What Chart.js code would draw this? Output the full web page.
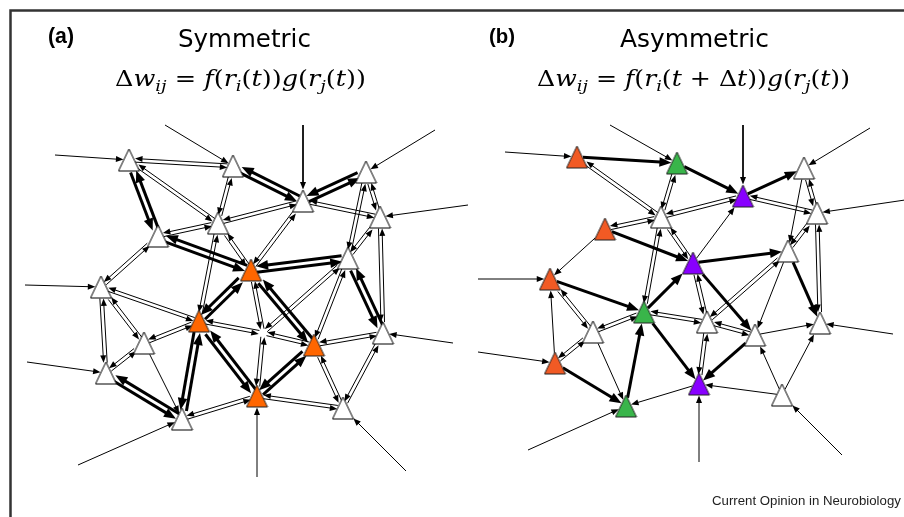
<!DOCTYPE html>
<html>
<head>
<meta charset="utf-8">
<script src="https://cdn.jsdelivr.net/npm/chart.js@4.4.0/dist/chart.umd.min.js"></script>
<style>
html, body { margin: 0; padding: 0; background: #fff; }
#wrap { position: relative; width: 904px; height: 517px; }
</style>
</head>
<body>
<div id="wrap"><canvas id="net"></canvas></div>
<script>
// ---- panel (a) : symmetric ----
var aX = [129, 233, 303, 366, 380, 218, 158, 251, 348, 101, 199, 144, 314, 383, 106, 182, 257, 343, 263];
var aY = [160, 166, 201, 172, 217, 223, 236, 270, 258, 287, 321, 343, 345, 333, 373, 419, 396, 408, 333];
var aKind = ['w', 'w', 'w', 'w', 'w', 'w', 'w', 'o', 'w', 'w', 'o', 'w', 'o', 'w', 'w', 'w', 'o', 'w', 'h'];
// connections in both directions: [i, j, thick]
var aPairs = [
    [0, 1, 0], [0, 6, 1], [0, 5, 0], [1, 5, 0], [1, 2, 1], [2, 3, 1], [2, 5, 0], [2, 4, 0], [2, 7, 0],
    [3, 4, 0], [3, 8, 0], [4, 8, 0], [4, 13, 0], [5, 7, 0], [6, 5, 0], [6, 7, 1], [6, 9, 0], [7, 8, 1],
    [5, 10, 0], [7, 10, 1], [7, 12, 1], [7, 18, 0], [8, 18, 0], [8, 12, 0], [8, 13, 1], [9, 10, 0],
    [9, 14, 0], [9, 11, 0], [10, 11, 0], [10, 15, 1], [10, 16, 1], [10, 18, 0], [11, 14, 0], [14, 15, 1],
    [15, 16, 0], [16, 12, 1], [16, 18, 0], [16, 17, 0], [12, 18, 0], [12, 13, 0], [12, 17, 0], [13, 17, 0]
];
// one way connections: [from, to, thick]
var aSingles = [[11, 15, 0]];
// inputs from outside: [x, y, to]
var aInputs = [[55, 155, 0], [165, 125, 1], [303, 125, 2], [435, 130, 3], [468, 205, 4], [25, 285, 9],
    [27, 362, 14], [78, 465, 15], [257, 477, 16], [406, 471, 17], [453, 343, 13]];

// ---- panel (b) : asymmetric ----
var bX = [577, 677, 743, 804, 817, 661, 605, 693, 788, 550, 644, 593, 707, 755, 820, 555, 699, 782, 626];
var bY = [157, 163, 196, 168, 213, 217, 229, 263, 251, 279, 312, 332, 322, 335, 323, 363, 384, 395, 406];
var bKind = ['o', 'g', 'p', 'w', 'w', 'w', 'o', 'p', 'w', 'o', 'g', 'w', 'w', 'w', 'w', 'o', 'p', 'w', 'g'];
var bPairs = [
    [0, 5, 0], [1, 5, 0], [2, 5, 0], [2, 4, 0], [3, 4, 0], [4, 8, 0], [4, 14, 0], [5, 6, 0], [5, 7, 0],
    [5, 10, 0], [7, 12, 0], [8, 12, 0], [9, 11, 0], [10, 12, 0], [11, 15, 0], [12, 16, 0], [12, 13, 0], [11, 10, 0]
];
var bSingles = [
    [0, 1, 1], [1, 2, 1], [2, 3, 1], [6, 7, 1], [7, 8, 1], [7, 13, 1], [8, 14, 1], [9, 10, 1], [10, 7, 1],
    [10, 16, 1], [15, 18, 1], [18, 10, 1], [13, 16, 1],
    [3, 8, 0], [8, 13, 0], [7, 2, 0], [15, 9, 0], [6, 9, 0], [11, 18, 0], [16, 18, 0], [17, 16, 0],
    [17, 13, 0], [17, 14, 0], [13, 14, 0]
];
var bInputs = [[505, 152, 0], [610, 125, 1], [743, 125, 2], [870, 128, 3], [905, 200, 4], [478, 279, 9],
    [478, 352, 15], [528, 450, 18], [699, 462, 16], [842, 455, 17], [893, 334, 14]];

var fills = { w: '#ffffff', oa: '#ff6600', o: '#f15a24', g: '#39b54a', p: '#8800ff' };

// triangle glyph used as point style
var TRI = [[0, -11], [10.5, 11], [-10.5, 11]];
function makeTri(color) {
    var c = document.createElement('canvas');
    c.width = 23; c.height = 24;
    var g = c.getContext('2d');
    g.beginPath();
    g.moveTo(11.5, 1);
    g.lineTo(22, 23);
    g.lineTo(1, 23);
    g.closePath();
    g.fillStyle = color;
    g.fill();
    g.lineWidth = 1;
    g.strokeStyle = color == '#ffffff' ? '#000' : '#222';
    g.stroke();
    return c;
}
var triCache = {};
function triFor(color) {
    if (!triCache[color]) triCache[color] = makeTri(color);
    return triCache[color];
}

// distance from triangle centre to its border along unit direction
function borderDist(dx, dy) {
    var best = 11;
    for (var k = 0; k < 3; k++) {
        var p = TRI[k], q = TRI[(k + 1) % 3];
        var ex = q[0] - p[0], ey = q[1] - p[1];
        var den = dx * ey - dy * ex;
        if (Math.abs(den) < 1e-9) continue;
        var t = (p[0] * ey - p[1] * ex) / den;
        var s = (p[0] * dy - p[1] * dx) / den;
        if (t > 0 && s >= -0.01 && s <= 1.01) best = t;
    }
    return best;
}

var datasets = [];

function addArrow(x1, y1, x2, y2, thick, fromNode, toHidden, fromHidden, off) {
    var dx = x2 - x1, dy = y2 - y1;
    var L = Math.hypot(dx, dy);
    dx /= L; dy /= L;
    var px = -dy * off, py = dx * off;
    var g0 = fromNode ? (fromHidden ? 4 : borderDist(dx, dy) + 0.5) : 0;
    var g1 = toHidden ? 4 : borderDist(-dx, -dy) + 0.5;
    var len = thick ? 12 : 7.5;
    var half = thick ? 4.8 : 3;
    var ext = len * 0.6;
    datasets.push({
        data: [
            { x: x1 + dx * g0 + px, y: y1 + dy * g0 + py },
            { x: x2 - dx * (g1 + ext) + px, y: y2 - dy * (g1 + ext) + py }
        ],
        showLine: true,
        borderColor: '#000',
        borderWidth: thick ? 3 : 1,
        pointRadius: 0,
        pointHoverRadius: 0,
        head: { len: len, half: half, ext: ext },
        order: 2
    });
}

function buildPanel(X, Y, kind, pairs, singles, inputs, orangeKey) {
    pairs.forEach(function (e) {
        var i = e[0], j = e[1], off = e[2] ? 3 : 1.8;
        addArrow(X[i], Y[i], X[j], Y[j], e[2], true, kind[j] == 'h', kind[i] == 'h', off);
        addArrow(X[j], Y[j], X[i], Y[i], e[2], true, kind[i] == 'h', kind[j] == 'h', off);
    });
    singles.forEach(function (e) {
        addArrow(X[e[0]], Y[e[0]], X[e[1]], Y[e[1]], e[2], true, kind[e[1]] == 'h', kind[e[0]] == 'h', 0);
    });
    inputs.forEach(function (e) {
        addArrow(e[0], e[1], X[e[2]], Y[e[2]], 0, false, false, false, 0);
    });
    var pts = [], styles = [];
    for (var i = 0; i < X.length; i++) {
        if (kind[i] == 'h') continue;
        pts.push({ x: X[i], y: Y[i] });
        var k = kind[i] == 'o' ? orangeKey : kind[i];
        styles.push(triFor(fills[k]));
    }
    datasets.push({
        data: pts,
        pointStyle: styles,
        pointRadius: 11,
        pointHoverRadius: 11,
        showLine: false,
        order: 0
    });
}

buildPanel(aX, aY, aKind, aPairs, aSingles, aInputs, 'oa');
buildPanel(bX, bY, bKind, bPairs, bSingles, bInputs, 'o');

var arrowHeads = {
    id: 'arrowHeads',
    afterDatasetDraw: function (chart, args) {
        var ds = chart.data.datasets[args.index];
        if (!ds.head) return;
        var a = args.meta.data[0], b = args.meta.data[1];
        var dx = b.x - a.x, dy = b.y - a.y, L = Math.hypot(dx, dy);
        dx /= L; dy /= L;
        var tx = b.x + dx * ds.head.ext, ty = b.y + dy * ds.head.ext;
        var bx = tx - dx * ds.head.len, by = ty - dy * ds.head.len;
        var ctx = chart.ctx;
        ctx.save();
        ctx.fillStyle = '#000';
        ctx.beginPath();
        ctx.moveTo(tx, ty);
        ctx.lineTo(bx - dy * ds.head.half, by + dx * ds.head.half);
        ctx.lineTo(bx + dy * ds.head.half, by - dx * ds.head.half);
        ctx.closePath();
        ctx.fill();
        ctx.restore();
    }
};

// formula runs: [text, italic, subscript]
var formulaA = [['Δ', 0, 0], ['w', 1, 0], ['ij', 1, 1], [' = ', 0, 0], ['f', 1, 0], ['(', 0, 0], ['r', 1, 0], ['i', 1, 1],
    ['(', 0, 0], ['t', 1, 0], ['))', 0, 0], ['g', 1, 0], ['(', 0, 0], ['r', 1, 0], ['j', 1, 1], ['(', 0, 0], ['t', 1, 0], ['))', 0, 0]];
var formulaB = [['Δ', 0, 0], ['w', 1, 0], ['ij', 1, 1], [' = ', 0, 0], ['f', 1, 0], ['(', 0, 0], ['r', 1, 0], ['i', 1, 1],
    ['(', 0, 0], ['t', 1, 0], [' + ', 0, 0], ['Δ', 0, 0], ['t', 1, 0], ['))', 0, 0], ['g', 1, 0], ['(', 0, 0], ['r', 1, 0], ['j', 1, 1],
    ['(', 0, 0], ['t', 1, 0], ['))', 0, 0]];

var FSIZE = 22;
function runFont(r) {
    var size = r[2] ? FSIZE * 0.7 : FSIZE;
    return (r[1] ? 'italic ' : '') + size + 'px "DejaVu Serif", serif';
}
function drawFormula(ctx, runs, x0, x1, base) {
    var w = 0;
    runs.forEach(function (r) { ctx.font = runFont(r); w += ctx.measureText(r[0]).width; });
    ctx.save();
    ctx.translate(x0, base);
    ctx.scale((x1 - x0) / w, 1);
    var x = 0;
    runs.forEach(function (r) {
        ctx.font = runFont(r);
        ctx.fillText(r[0], x, r[2] ? FSIZE * 0.24 : 0);
        x += ctx.measureText(r[0]).width;
    });
    ctx.restore();
}
function fitText(ctx, text, weight, family, x0, x1, base) {
    ctx.font = weight + ' 20px ' + family;
    var s = 20 * (x1 - x0) / ctx.measureText(text).width;
    ctx.font = weight + ' ' + s + 'px ' + family;
    ctx.fillText(text, x0, base);
}

var labels = {
    id: 'labels',
    beforeDraw: function (chart) {
        var ctx = chart.ctx;
        ctx.save();
        ctx.fillStyle = '#fff';
        ctx.fillRect(0, 0, chart.width, chart.height);
        ctx.strokeStyle = '#333';
        ctx.lineWidth = 2.5;
        ctx.beginPath();
        ctx.moveTo(10.5, chart.height);
        ctx.lineTo(10.5, 10.5);
        ctx.lineTo(chart.width, 10.5);
        ctx.stroke();
        ctx.restore();
    },
    afterDraw: function (chart) {
        var ctx = chart.ctx;
        ctx.save();
        ctx.fillStyle = '#000';
        ctx.textBaseline = 'alphabetic';
        fitText(ctx, '(a)', 'bold', '"Liberation Sans", Arial', 48, 74, 43);
        fitText(ctx, '(b)', 'bold', '"Liberation Sans", Arial', 489, 515, 43);
        fitText(ctx, 'Symmetric', 'normal', '"DejaVu Sans"', 178, 311, 47);
        fitText(ctx, 'Asymmetric', 'normal', '"DejaVu Sans"', 620, 769, 47);
        drawFormula(ctx, formulaA, 115, 366, 86);
        drawFormula(ctx, formulaB, 537, 850, 86);
        ctx.fillStyle = '#222';
        fitText(ctx, 'Current Opinion in Neurobiology', 'normal', '"Liberation Sans", Arial', 712, 901, 505);
        ctx.restore();
    }
};

new Chart(document.getElementById('net'), {
    type: 'scatter',
    data: { datasets: datasets },
    options: {
        responsive: true,
        maintainAspectRatio: false,
        animation: false,
        layout: { padding: 0, autoPadding: false },
        plugins: { legend: { display: false }, tooltip: { enabled: false } },
        scales: {
            x: { type: 'linear', min: 0, max: 904, display: false },
            y: { type: 'linear', min: 0, max: 517, reverse: true, display: false }
        }
    },
    plugins: [labels, arrowHeads]
});
</script>
</body>
</html>
